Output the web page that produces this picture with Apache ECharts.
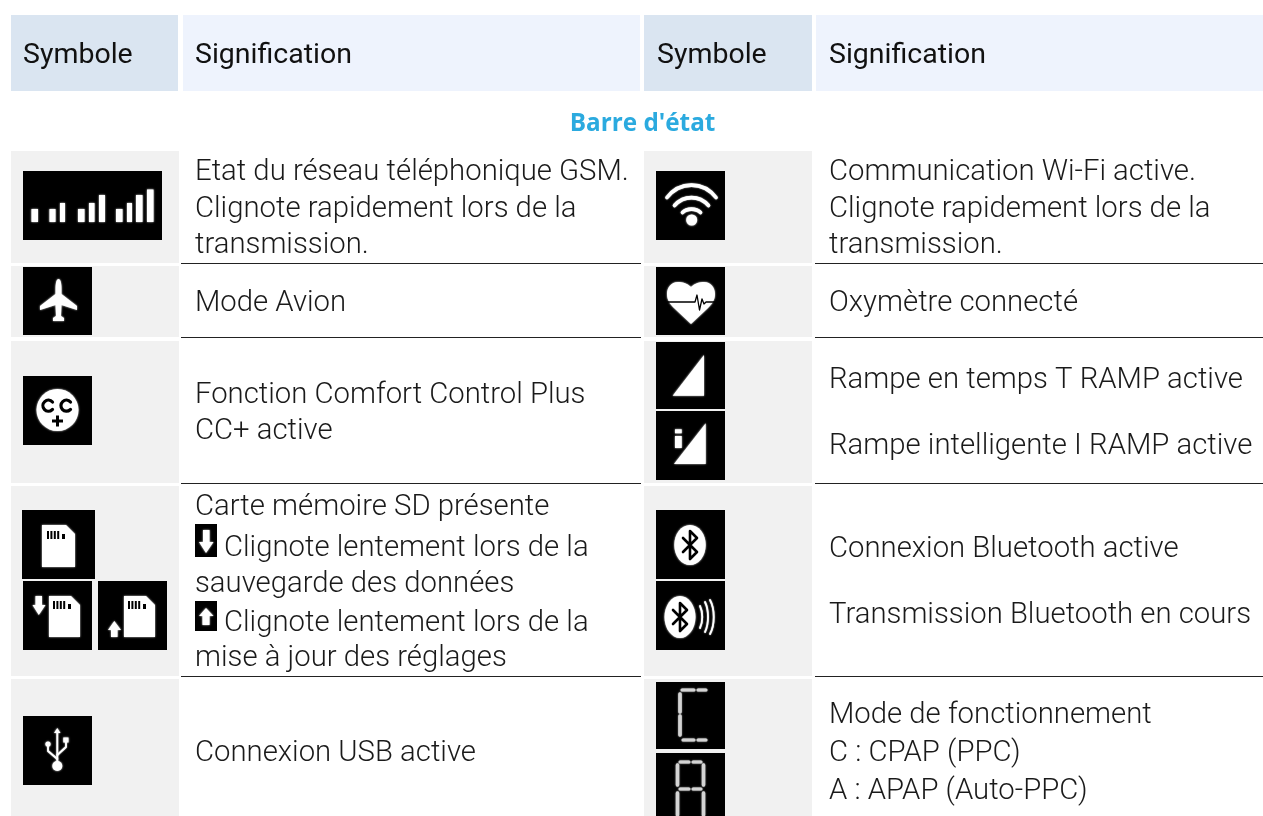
<!DOCTYPE html>
<html><head><meta charset="utf-8">
<style>html,body{margin:0;padding:0;background:#fff}#c{width:1263px;height:816px}</style>
<script src="https://cdn.jsdelivr.net/npm/echarts@6/dist/echarts.min.js"></script>
</head><body><div id="c"></div>
<script>
const headers = ['Symbole', 'Signification', 'Symbole', 'Signification'];
const sectionTitle = "Barre d'état";
const leftText = [
  ['Etat du réseau téléphonique GSM.', 'Clignote rapidement lors de la', 'transmission.'],
  ['Mode Avion'],
  ['Fonction Comfort Control Plus', 'CC+ active'],
  ['Carte mémoire SD présente', 'Clignote lentement lors de la', 'sauvegarde des données', 'Clignote lentement lors de la', 'mise à jour des réglages'],
  ['Connexion USB active']
];
const rightText = [
  ['Communication Wi-Fi active.', 'Clignote rapidement lors de la', 'transmission.'],
  ['Oxymètre connecté'],
  ['Rampe en temps T RAMP active', 'Rampe intelligente I RAMP active'],
  ['Connexion Bluetooth active', 'Transmission Bluetooth en cours'],
  ['Mode de fonctionnement', 'C : CPAP (PPC)', 'A : APAP (Auto-PPC)']
];
const leftLineY = [173, 210, 246, 304, 396, 432, 508, 549, 585, 624, 659, 754];
const rightLineY = [173, 210, 246, 304, 381, 447, 550, 616, 716, 754, 792];
const leftLineX = [195, 195, 195, 195, 195, 195, 195, 224, 195, 224, 195, 195];
const rowBands = [[151, 263], [266, 337], [341, 483], [486, 676], [679, 816]];
const ruleY = [263, 337, 483, 676];

const FONT = 'Roboto';
const g = [];
const rect = (x, y, w, h, fill) => g.push({type:'rect', shape:{x, y, width:w, height:h}, style:{fill}, silent:true});
const text = (x, y, t, o={}) => g.push({type:'text', x, y, silent:true, style:Object.assign({
  text:t, fontFamily:FONT, fontSize:29.3, fontWeight:300, fill:'#1a1a1a', align:'left', verticalAlign:'middle'}, o)});

const W = d => ({type:'path', shape:{pathData:d}, style:{fill:'#fff', shadowColor:'#fff', shadowBlur:2}});
const K = d => ({type:'path', shape:{pathData:d}, style:{fill:'#000'}});
const S = (d, w, c='#fff', blur=1.5) => ({type:'path', shape:{pathData:d}, style:{fill:null, stroke:c, lineWidth:w, lineCap:'round', lineJoin:'round', shadowColor:c, shadowBlur:blur}});
const icon = (x, y, w, h, kids) => { g.push({type:'group', x, y, silent:true, children:[
  {type:'rect', shape:{x:0, y:0, width:w, height:h}, style:{fill:'#000'}}].concat(kids)}); };
const box = (a, b, c, d) => `M${a} ${b}L${c} ${b}L${c} ${d}L${a} ${d}Z`;
const circ = (cx, cy, rx, ry=rx) => `M${cx-rx} ${cy}A${rx} ${ry} 0 1 1 ${cx+rx} ${cy}A${rx} ${ry} 0 1 1 ${cx-rx} ${cy}Z`;

[[11,167,'#dae5f1'],[183,457,'#eef3fd'],[644,168,'#dae5f1'],[816,447,'#eef3fd']].forEach(b => rect(b[0], 15, b[1], 76, b[2]));
rowBands.forEach(r => { rect(11, r[0], 168, r[1]-r[0], '#f1f1f1'); rect(644, r[0], 168, r[1]-r[0], '#f1f1f1'); });
ruleY.forEach(y => { rect(181, y, 460, 1, '#222'); rect(815, y, 448, 1, '#222'); });

[23, 195, 657, 829].forEach((x, i) => text(x, 56, headers[i], {fontWeight:400, fill:'#111', fontSize:28.5}));
text(642.5, 124, sectionTitle, {fontFamily:'Open Sans', fontWeight:700, fontSize:24.3, fill:'#2baadf', align:'center'});

leftText.flat().forEach((t, i) => text(leftLineX[i], leftLineY[i], t));
rightText.flat().forEach((t, i) => text(829, rightLineY[i], t));

icon(23, 171, 139, 69, [
  [8.5,15,38],[26.5,32.5,38],[37,42,32],[55,61.5,38],[66,71.5,32],[76,82,24],[93,99.5,38],[104,109,32],[113,119.5,24],[124,130.5,18.5]
].map(b => W(box(b[0], b[2], b[1], 51))));
icon(23, 267, 69, 68, [W('M35.5 12C37.5 12 38.5 16 38.5 22L38.5 27L54 39L54 43L38.5 38L38 49L41 51L41 54L30 54L30 51L33 49L32.5 38L17 43L17 39L32.5 27L32.5 22C32.5 16 33.5 12 35.5 12Z')]);
icon(23, 376, 69, 69, [W(circ(34.5, 34, 21)),
  S('M29.5 26A5.5 5.5 0 1 0 29.5 33.4', 3.2, '#000', 0), S('M47.5 26A5.5 5.5 0 1 0 47.5 33.4', 3.2, '#000', 0),
  K(box(29, 43.5, 40, 46.5)), K(box(33, 39.5, 36, 50.5))]);
const card = (a, b, c, d) => W(`M${a} ${b}L${c-9} ${b}L${c} ${b+9}L${c} ${d}L${a} ${d}Z`);
const notches = (a, b) => [0, 3.4, 6.8, 10.2].map(o => K(box(a+o, b, a+o+2, b+8))).concat([K(box(a+15, b+3, a+18, b+8))]);
icon(22, 510, 73, 69, [card(20, 15, 53, 57)].concat(notches(25, 21)));
icon(23, 581, 69, 69, [card(26, 15, 57, 56), W('M12.5 15L19 15L19 24L22.5 24L15.8 34L9.5 24L12.5 24Z')].concat(notches(30, 20)));
icon(98, 581, 69, 69, [card(26, 15, 57, 56), W('M16.3 40L23 49L19.5 49L19.5 56L13 56L13 49L10 49Z')].concat(notches(30, 20)));
icon(195, 524, 22, 33, [W('M8 6L14.5 6L14.5 18L18.5 18L11 29L4 18L8 18Z')]);
icon(195, 601, 22, 30, [W('M11 7L18.5 15L14.5 15L14.5 24L7.5 24L7.5 15L4 15Z')]);
icon(23, 716, 69, 69, [W(circ(34.3, 50, 5)), W('M34.3 12L37.5 17L31 17Z'), S('M34.3 16L34.3 47', 1.8),
  S('M34.3 43L25 35L25 28', 1.8), S('M34.3 39L43 31L43 24', 1.8), W(circ(25, 28, 2.6)), W(box(40.3, 21.5, 45.5, 26.5))]);
icon(656, 171, 69, 69, [W(circ(35.7, 49, 5.5)),
  S('M11 26.5C24 10 47 10 60 26.5', 3.6), S('M18.5 34.5C28 24 43 24 52.5 34.5', 3.6), S('M26.5 41.5C31 37 40 37 44.5 41.5', 3.6)]);
icon(656, 267, 69, 68, [W('M35 20C31 16 26 15 22 15C15 15 11 21 11 27C11 33 14 37 18 41L35 57L52 41C56 37 59 33 59 27C59 21 55 15 48 15C44 15 39 16 35 20Z'),
  S('M11 35L39 35L41 28L43.5 43L46 32L48 37L50 35L59 35', 1.3, '#000', 0)]);
icon(656, 342, 69, 67, [W('M16.7 53.7L48 53.7L48 13Z')]);
icon(656, 411, 69, 69, [W('M18 53L49.7 53L49.7 12.3Z'), W(box(19, 25, 25.7, 37)), W(box(19, 18.3, 25.7, 22.3))]);
const rune = (cx, cy) => S(`M${cx-7} ${cy-7}L${cx+7} ${cy+7}L${cx} ${cy+14}L${cx} ${cy-14}L${cx+7} ${cy-7}L${cx-7} ${cy+7}`, 2.6, '#000', 0);
icon(656, 510, 69, 69, [W(circ(34, 35, 15.7, 20)), rune(34, 35)]);
icon(656, 581, 69, 69, [W(circ(24, 36, 15.5, 21)), rune(24, 36),
  S('M44 25C47 31 47 41 44 47', 1.8), S('M49 21C53 29 53 43 49 51', 1.8), S('M54 19C59 28 59 44 54 53', 1.8)]);
const SEG = '#d4d4d4';
icon(656, 682, 69, 67, [
  S('M26 8L38 8', 3, SEG), S('M42 8L50 8', 3, SEG), S('M24 12L24 30', 3.5, SEG), S('M24 34L24 53', 3.5, SEG), S('M27 58L38 58', 3, SEG), S('M42 58L50 58', 3, SEG)
]);
icon(656, 753, 69, 63, [
  S('M24 9L33 9', 3, SEG), S('M37 9L45 9', 3, SEG), S('M21.5 12L21.5 32', 3.5, SEG), S('M47.5 12L47.5 32', 3.5, SEG),
  S('M24 36L33 36', 3, SEG), S('M37 36L45 36', 3, SEG), S('M21.5 40L21.5 62', 3.5, SEG), S('M47.5 40L47.5 62', 3.5, SEG)
]);

const chart = echarts.init(document.getElementById('c'), null, {renderer:'canvas', width:1263, height:816});
chart.setOption({animation:false, backgroundColor:'#fff', xAxis:{show:false}, yAxis:{show:false}, grid:{show:false},
  series:[{type:'custom', coordinateSystem:'none', silent:true, clip:false, data:[0],
    renderItem:() => ({type:'group', children:g})}]});
</script></body></html>
